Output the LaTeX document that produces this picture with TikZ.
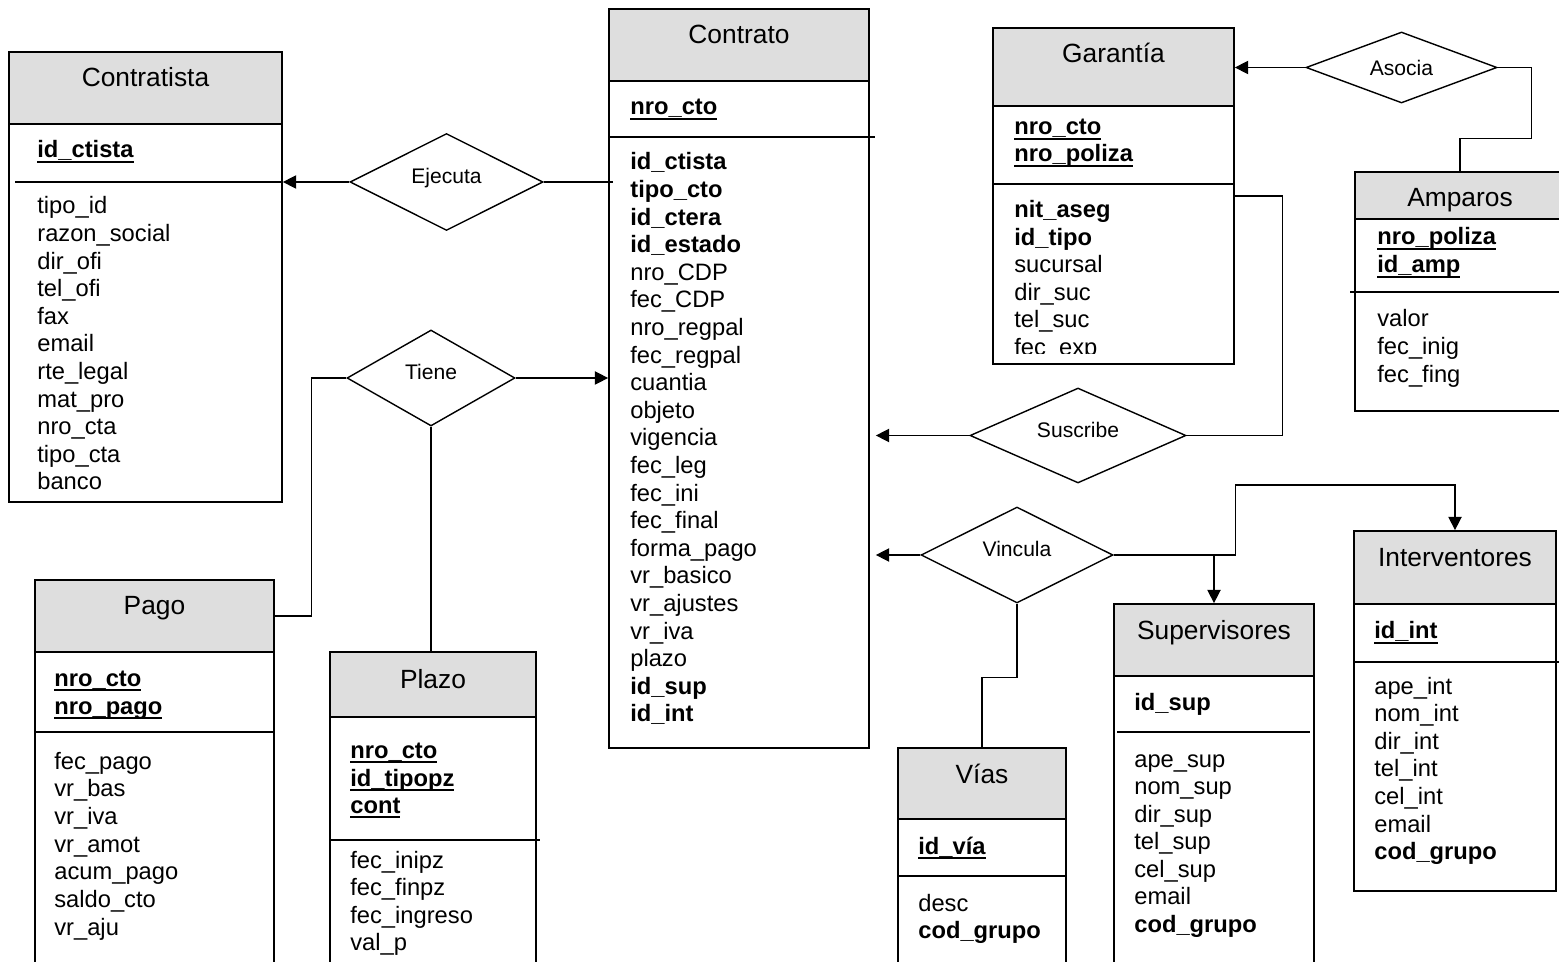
\documentclass[tikz,border=0pt]{standalone}
\usepackage{fontspec}
\setmainfont{Liberation Sans}
\usetikzlibrary{shapes.geometric, arrows.meta, positioning, fit, calc}
\definecolor{hdrgray}{RGB}{222,222,222}
\newcommand{\keyattr}[1]{\setbox0\hbox{\textbf{#1}}\rlap{\rule[-2.9pt]{\wd0}{1.2pt}}\box0}

\begin{document}
\begin{tikzpicture}[x=0.02cm, y=-0.02cm,
    box/.style={draw, line width=1pt, inner sep=0pt},
    hdr/.style={box, fill=hdrgray},
    entname/.style={anchor=base, inner sep=0pt, font=\fontsize{15}{18}\selectfont},
    attr/.style={anchor=base west, inner sep=0pt, font=\fontsize{13.5}{16}\selectfont},
    rel/.style={draw, diamond, inner sep=0pt, line width=0.8pt, font=\fontsize{12}{14}\selectfont},
    sepline/.style={line width=0.9pt},
    link/.style={line width=0.8pt},
    arr/.style={link, -{Triangle[length=7.5pt, width=7.5pt]}}
]
\useasboundingbox (0,0) rectangle (1559,962);
\clip (0,0) rectangle (1559,962);

% Contratista
\node[box, fit={(9,52) (282,502)}] (ctista) {};
\node[hdr, fit={(9,52) (282,124)}] (ctistaH) {};
\node[entname] (ctistaT) at (145.5,87) {Contratista};
\node[attr] (ctistaK) at (37,158) {\keyattr{id\_ctista}};
\draw[sepline] (15,182) -- (282,182);
\foreach \attrname [count=\i] in {tipo\_id, razon\_social, dir\_ofi, tel\_ofi, fax, email, rte\_legal, mat\_pro, nro\_cta, tipo\_cta, banco}
    \node[attr] (ctista-\i) at (37,{214+27.6*(\i-1)}) {\attrname};

% Contrato
\node[box, fit={(609,9) (869,748)}] (contrato) {};
\node[hdr, fit={(609,9) (869,81)}] (contratoH) {};
\node[entname] (contratoT) at (739,44) {Contrato};
\node[attr] (contratoK) at (630,115) {\keyattr{nro\_cto}};
\draw[sepline] (609,137) -- (875,137);
\foreach \attrname [count=\i] in {\textbf{id\_ctista}, \textbf{tipo\_cto}, \textbf{id\_ctera}, \textbf{id\_estado}, nro\_CDP, fec\_CDP, nro\_regpal, fec\_regpal, cuantia, objeto, vigencia, fec\_leg, fec\_ini, fec\_final, forma\_pago, vr\_basico, vr\_ajustes, vr\_iva, plazo, \textbf{id\_sup}, \textbf{id\_int}}
    \node[attr] (contrato-\i) at (630,{170+27.6*(\i-1)}) {\attrname};

% Garantia
\node[box, fit={(993,28) (1234,364)}] (garantia) {};
\node[hdr, fit={(993,28) (1234,106)}] (garantiaH) {};
\node[entname] (garantiaT) at (1113.5,63) {Garantía};
\node[attr] (garantiaK1) at (1014,135) {\keyattr{nro\_cto}};
\node[attr] (garantiaK2) at (1014,162) {\keyattr{nro\_poliza}};
\draw[sepline] (993,184) -- (1234,184);
\begin{scope}
\clip (993,28) rectangle (1234,354);
\foreach \attrname [count=\i] in {\textbf{nit\_aseg}, \textbf{id\_tipo}, sucursal, dir\_suc, tel\_suc, fec\_exp}
    \node[attr] (garantia-\i) at (1014,{218+27.5*(\i-1)}) {\attrname};
\end{scope}

% Amparos
\node[box, fit={(1355,172) (1565,411)}] (amparos) {};
\node[hdr, fit={(1355,172) (1565,219)}] (amparosH) {};
\node[entname] (amparosT) at (1460,207) {Amparos};
\node[attr] (amparosK1) at (1377,245) {\keyattr{nro\_poliza}};
\node[attr] (amparosK2) at (1377,273) {\keyattr{id\_amp}};
\draw[sepline] (1350,292) -- (1565,292);
\foreach \attrname [count=\i] in {valor, fec\_inig, fec\_fing}
    \node[attr] (amparos-\i) at (1377,{327+28*(\i-1)}) {\attrname};

% Pago
\node[box, fit={(35,580) (274,975)}] (pago) {};
\node[hdr, fit={(35,580) (274,652)}] (pagoH) {};
\node[entname] (pagoT) at (154.5,615) {Pago};
\node[attr] (pagoK1) at (54,686) {\keyattr{nro\_cto}};
\node[attr] (pagoK2) at (54,714) {\keyattr{nro\_pago}};
\draw[sepline] (35,732) -- (274,732);
\foreach \attrname [count=\i] in {fec\_pago, vr\_bas, vr\_iva, vr\_amot, acum\_pago, saldo\_cto, vr\_aju}
    \node[attr] (pago-\i) at (54,{769+27.7*(\i-1)}) {\attrname};

% Plazo
\node[box, fit={(330,652) (536,975)}] (plazo) {};
\node[hdr, fit={(330,652) (536,717)}] (plazoH) {};
\node[entname] (plazoT) at (433,688) {Plazo};
\node[attr] (plazoK1) at (350,758) {\keyattr{nro\_cto}};
\node[attr] (plazoK2) at (350,786) {\keyattr{id\_tipopz}};
\node[attr] (plazoK3) at (350,813) {\keyattr{cont}};
\draw[sepline] (330,840) -- (540,840);
\foreach \attrname [count=\i] in {fec\_inipz, fec\_finpz, fec\_ingreso, val\_p}
    \node[attr] (plazo-\i) at (350,{868+27.6*(\i-1)}) {\attrname};

% Vias
\node[box, fit={(898,748) (1066,975)}] (vias) {};
\node[hdr, fit={(898,748) (1066,819)}] (viasH) {};
\node[entname] (viasT) at (982,783) {Vías};
\node[attr] (viasK) at (918,854) {\keyattr{id\_vía}};
\draw[sepline] (898,876) -- (1066,876);
\node[attr] (vias-1) at (918,911) {desc};
\node[attr] (vias-2) at (918,938) {\textbf{cod\_grupo}};

% Supervisores
\node[box, fit={(1114,604) (1314,975)}] (sup) {};
\node[hdr, fit={(1114,604) (1314,676)}] (supH) {};
\node[entname] (supT) at (1214,640) {Supervisores};
\node[attr] (supK) at (1134,710) {\textbf{id\_sup}};
\draw[sepline] (1117,732) -- (1310,732);
\foreach \attrname [count=\i] in {ape\_sup, nom\_sup, dir\_sup, tel\_sup, cel\_sup, email, \textbf{cod\_grupo}}
    \node[attr] (sup-\i) at (1134,{767+27.5*(\i-1)}) {\attrname};

% Interventores
\node[box, fit={(1354,531) (1556,891)}] (inter) {};
\node[hdr, fit={(1354,531) (1556,604)}] (interH) {};
\node[entname] (interT) at (1455,567) {Interventores};
\node[attr] (interK) at (1374,639) {\keyattr{id\_int}};
\draw[sepline] (1354,662) -- (1559,662);
\foreach \attrname [count=\i] in {ape\_int, nom\_int, dir\_int, tel\_int, cel\_int, email, \textbf{cod\_grupo}}
    \node[attr] (inter-\i) at (1374,{694+27.6*(\i-1)}) {\attrname};

% Relaciones
\node[rel, minimum width=3.86cm, minimum height=1.94cm] (ejecuta) at (446.5,182) {\smash{\raisebox{-1pt}{Ejecuta}}};
\node[rel, minimum width=3.36cm, minimum height=1.92cm] (tiene) at (431,378) {\smash{\raisebox{-1pt}{Tiene}}};
\node[rel, minimum width=3.82cm, minimum height=1.42cm] (asocia) at (1401.5,67.5) {\smash{\raisebox{-4.3pt}{Asocia}}};
\node[rel, minimum width=4.32cm, minimum height=1.90cm] (suscribe) at (1078,435.5) {\smash{\raisebox{-1pt}{Suscribe}}};
\node[rel, minimum width=3.84cm, minimum height=1.92cm] (vincula) at (1017,555) {\smash{\raisebox{-1pt}{Vincula}}};
\coordinate (garSus) at (1234,196);

% Conectores
\draw[arr] (ejecuta.west) -- (ejecuta.west -| ctista.east);
\draw[link] (ejecuta.east) -- ($(ejecuta.east -| contrato.west)+(5,0)$);
\draw[arr] (tiene.east) -- (tiene.east -| contrato.west);
\draw[link] (tiene.west) -- ++(-35,0) |- (pagoH.east);
\draw[link] (tiene.south) -- (tiene.south |- plazoH.north);
\draw[arr] (asocia.west) -- (asocia.west -| garantiaH.east);
\draw[link] (asocia.east) -- ++(34,0) -- ++(0,71) -| (amparosH.north);
\draw[arr, shorten >=3.4pt] (suscribe.west) -- (suscribe.west -| contrato.east);
\draw[link] (suscribe.east) -- ++(96,0) |- (garSus);
\draw[arr, shorten >=3.4pt] (vincula.west) -- (vincula.west -| contrato.east);
\draw[arr] (vincula.east) -- ++(122,0) -- ++(0,-70) -| (interH.north);
\draw[arr] (vincula.east -| supH.north) -- (supH.north);
\draw[link] (vincula.south) -- ++(0,74) -| (viasH.north);
\end{tikzpicture}
\end{document}
